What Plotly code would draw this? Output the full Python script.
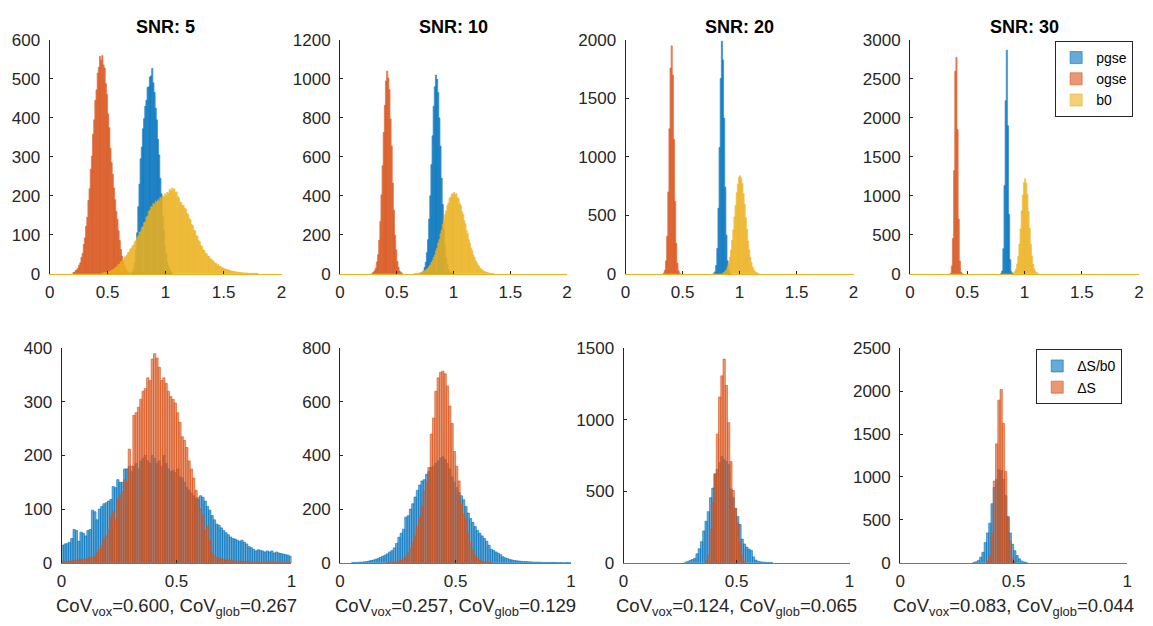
import numpy as np
import plotly.graph_objects as go

BIN = 0.01  # histogram bin width (fixed edges)

# ---------------- data: top row (pgse / ogse / b0), start edge + bin counts ----------------
snr_labels = ["SNR: 5", "SNR: 10", "SNR: 20", "SNR: 30"]

pgse_5_start = 0.70
pgse_5 = [2, 5, 12, 28, 62, 105, 172, 230, 295, 325, 372, 398, 430, 445, 478, 480, 505, 508, 527, 490,
          465, 425, 395, 345, 305, 245, 205, 148, 112, 72, 52, 30, 19, 10, 5, 2]
ogse_5_start = 0.20
ogse_5 = [3, 4, 8, 10, 14, 22, 28, 42, 52, 75, 92, 122, 145, 188, 218, 268, 302, 358, 395, 445,
          472, 515, 530, 558, 548, 560, 536, 528, 488, 460, 410, 375, 322, 285, 255, 220, 190, 160, 140, 110,
          85, 62, 45, 30, 20, 12, 8, 5, 3]
b0_5_start = 0.45
b0_5 = [2, 2, 3, 3, 4, 5,
        6, 7, 9, 10, 12, 15, 17, 20, 24,
        25, 30, 33, 35, 41, 44, 47, 54, 56, 63,
        65, 71, 74, 82, 85, 93, 97, 106, 108, 118,
        121, 131, 133, 145, 148, 160, 163, 172, 172, 180,
        178, 186, 183, 190, 187, 196, 192, 200, 197, 205,
        200, 209, 206, 216, 212, 220, 215, 218, 208, 210,
        198, 195, 184, 183, 175, 176, 168, 166, 155, 152,
        141, 138, 126, 124, 112, 110, 98, 96, 85, 82,
        72, 70, 61, 60, 52, 51, 45, 45, 38, 38,
        33, 32, 27, 27, 23, 23, 19, 19, 15, 15,
        13, 12, 11, 10, 9, 8, 7, 6, 6, 5,
        5, 4, 4, 3, 3, 3, 2, 2, 2, 2,
        2, 1, 1, 1, 1, 1, 1, 1, 1, 1]

pgse_10_start = 0.71
pgse_10 = [3, 7, 14, 32, 58, 108, 175, 280, 400, 560, 708, 860, 960, 1020, 998, 930, 800, 655, 490, 355,
           230, 148, 83, 47, 22, 11, 5, 2]
ogse_10_start = 0.28
ogse_10 = [4, 8, 16, 29, 60, 98, 172, 268, 405, 555, 725, 865, 990, 1040, 1005, 945, 795, 655, 465, 325,
           198, 122, 63, 33, 14, 7, 3]
b0_10_start = 0.65
b0_10 = [1, 1, 2, 2, 3, 5, 6, 8, 11, 14,
         18, 24, 28, 38, 45, 57, 67, 84, 96, 118,
         132, 158, 175, 205, 224, 255, 274, 304, 322, 350,
         362, 387, 393, 410, 408, 418, 405, 412, 390, 385,
         360, 350, 318, 305, 272, 256, 222, 205, 175, 158,
         132, 117, 96, 84, 66, 57, 45, 38, 28, 24,
         18, 14, 11, 8, 6, 5, 3, 2, 2, 1, 1]

pgse_20_start = 0.77
pgse_20 = [3, 16, 70, 215, 560, 1080, 1670, 1990, 1830, 1330, 740, 330, 110, 30, 6]
ogse_20_start = 0.33
ogse_20 = [6, 30, 110, 320, 700, 1240, 1760, 1950, 1700, 1150, 620, 260, 90, 25, 6]
b0_20_start = 0.85
b0_20 = [6, 11, 21, 34, 60, 90, 142, 200, 288, 375, 486, 585, 692, 765, 826, 838, 818, 772, 684, 592,
         480, 380, 280, 206, 138, 93, 57, 36, 19, 11, 6, 3]

pgse_30_start = 0.79
pgse_30 = [5, 35, 320, 1130, 2220, 2870, 1900, 760, 180, 25, 3]
ogse_30_start = 0.35
ogse_30 = [8, 100, 452, 1324, 2597, 2776, 1850, 700, 162, 20, 3]
b0_30_start = 0.90
b0_30 = [11, 28, 60, 125, 225, 380, 575, 805, 1010, 1170, 1220, 1160, 1015, 798, 580, 375, 228, 120, 62, 27,
         11, 4]

# ---------------- data: bottom row (dS/b0 and dS) ----------------
dsb0_5_start = 0.00
dsb0_5 = [32, 35, 36, 38, 45, 62, 60, 40, 57, 55,
          50, 60, 62, 98, 95, 80, 100, 105, 110, 112,
          115, 118, 142, 140, 155, 150, 150, 175, 175, 180,
          170, 180, 185, 175, 190, 195, 200, 190, 185, 200,
          195, 185, 190, 180, 200, 185, 175, 170, 172, 168,
          175, 160, 158, 150, 140, 135, 130, 125, 120, 118,
          125, 122, 115, 105, 98, 88, 80, 72, 70, 65,
          60, 56, 52, 48, 45, 44, 42, 40, 42, 38,
          35, 30, 28, 25, 22, 24, 23, 22, 20, 22,
          20, 22, 18, 20, 18, 17, 16, 15, 14, 12]
ds_5_start = 0.00
ds_5 = [2, 2, 3, 3, 3, 4, 5, 5, 6, 6,
        7, 8, 9, 10, 12, 18, 25, 32, 45, 50,
        62, 85, 95, 80, 118, 125, 132, 155, 150, 212,
        180, 275, 280, 290, 305, 320, 325, 345, 340, 380,
        390, 382, 365, 340, 345, 335, 320, 310, 305, 298,
        280, 262, 235, 228, 215, 190, 175, 158, 135, 122,
        100, 88, 60, 68, 42, 18, 14, 10, 8, 7,
        6, 5, 5, 4, 4, 3, 3, 3, 2, 2,
        2, 2, 1, 1, 1, 1, 1, 1, 1, 1,
        1, 1, 1, 0, 1, 0, 1, 0, 0, 0]

dsb0_10_start = 0.05
dsb0_10 = [1, 1, 1, 2, 2,
           3, 4, 6, 8, 10, 13, 16, 20, 24, 28,
           33, 40, 45, 55, 72, 95, 110, 125, 170, 175,
           200, 220, 245, 270, 290, 305, 310, 330, 340, 355,
           360, 370, 380, 390, 395, 385, 370, 350, 320, 300,
           280, 262, 250, 235, 210, 185, 165, 150, 135, 120,
           110, 100, 90, 80, 65, 50, 45, 40, 35, 30,
           22, 18, 15, 12, 10, 8, 7, 6, 5, 4,
           4, 3, 3, 2, 2, 2, 2, 1, 1, 1,
           1, 1, 1, 1, 0, 1, 0, 0, 1, 0]
ds_10_start = 0.20
ds_10 = [0, 0, 1, 2, 3, 5, 8, 14, 22, 35,
         52, 75, 100, 135, 170, 210, 268, 300, 355, 480,
         540, 640, 690, 710, 715, 705, 660, 585, 520, 415,
         360, 305, 220, 180, 160, 110, 75, 50, 27, 18,
         8, 5, 3, 2, 1, 1]

dsb0_20_start = 0.27
dsb0_20 = [4, 9, 16, 22, 30, 62, 97, 147, 222, 290, 357, 455, 522, 622, 652, 700, 742, 720, 708, 685,
           516, 455, 380, 324, 267, 165, 131, 109, 95, 86, 41, 18, 10, 6, 4, 3, 2, 2, 1]
ds_20_start = 0.36
ds_20 = [10, 52, 233, 420, 618, 900, 1160, 1308, 1425, 1240, 980, 708, 505, 380, 278, 143, 52, 12]

dsb0_30_start = 0.32
dsb0_30 = [4, 10, 26, 64, 121, 234, 347, 461, 687, 876, 971, 1084, 1073, 971, 782, 536, 347, 215, 140, 83,
           45, 19, 8, 4]
ds_30_start = 0.38
ds_30 = [20, 83, 347, 952, 1386, 1896, 2020, 1624, 1065, 536, 253, 45, 8]

cov_vox = ["0.600", "0.257", "0.124", "0.083"]
cov_glob = ["0.267", "0.129", "0.065", "0.044"]

top_ymax = [600, 1200, 2000, 3000]
top_dtick = [100, 200, 500, 500]
bot_ymax = [400, 800, 1500, 2500]
bot_dtick = [100, 200, 500, 500]

top_names = ["pgse", "ogse", "b0"]
bot_names = ["ΔS/b0", "ΔS"]

# ---------------- styling / layout ----------------
W, H = 1153, 626
FONT = "Liberation Sans, Arial, Helvetica, sans-serif"
AX = "#262626"
BLUE = (0, 114, 189)
ORANGE = (217, 83, 25)
YELLOW = (237, 177, 32)

top_x_px = [(45, 279), (338, 567), (626, 856), (913, 1144)]
bot_x_px = [(57, 289), (338, 571), (624, 852), (903, 1132)]
top_y_px = (32, 273)
bot_y_px = (350, 571)


def xdom(a, b):
    return [a / W, b / W]


def ydom(top, bottom):
    return [1 - bottom / H, 1 - top / H]


fig = go.Figure()


def add_hist(n, start, counts, rgb, name, legend, showlegend):
    centers = start + BIN * (np.arange(len(counts)) + 0.5)
    r, g, b = rgb
    fig.add_trace(go.Bar(
        x=centers, y=counts, width=BIN, name=name,
        marker=dict(color=f"rgba({r},{g},{b},0.6)", line=dict(color=f"rgb({r},{g},{b})", width=0.6)),
        xaxis="x" if n == 1 else f"x{n}", yaxis="y" if n == 1 else f"y{n}",
        showlegend=showlegend, legend=legend, hoverinfo="skip"))


top_data = [
    ((pgse_5_start, pgse_5), (ogse_5_start, ogse_5), (b0_5_start, b0_5)),
    ((pgse_10_start, pgse_10), (ogse_10_start, ogse_10), (b0_10_start, b0_10)),
    ((pgse_20_start, pgse_20), (ogse_20_start, ogse_20), (b0_20_start, b0_20)),
    ((pgse_30_start, pgse_30), (ogse_30_start, ogse_30), (b0_30_start, b0_30)),
]
bot_data = [
    ((dsb0_5_start, dsb0_5), (ds_5_start, ds_5)),
    ((dsb0_10_start, dsb0_10), (ds_10_start, ds_10)),
    ((dsb0_20_start, dsb0_20), (ds_20_start, ds_20)),
    ((dsb0_30_start, dsb0_30), (ds_30_start, ds_30)),
]

for i in range(4):
    n = i + 1
    for (st, cnt), col, nm in zip(top_data[i], (BLUE, ORANGE, YELLOW), top_names):
        add_hist(n, st, cnt, col, nm, "legend", i == 3)
    n = i + 5
    for (st, cnt), col, nm in zip(bot_data[i], (BLUE, ORANGE), bot_names):
        add_hist(n, st, cnt, col, nm, "legend2", i == 3)

layout = dict(
    width=W, height=H, autosize=False,
    margin=dict(l=0, r=0, t=0, b=0),
    paper_bgcolor="white", plot_bgcolor="white",
    barmode="overlay",
    font=dict(family=FONT, size=17, color=AX),
    legend=dict(x=1138 / W, xanchor="right", y=1 - 33 / H, yanchor="top",
                bordercolor=AX, borderwidth=1, bgcolor="white",
                font=dict(size=14, color="black"), itemwidth=30, tracegroupgap=0),
    legend2=dict(x=1127 / W, xanchor="right", y=1 - 351 / H, yanchor="top",
                 bordercolor=AX, borderwidth=1, bgcolor="white",
                 font=dict(size=14, color="black"), itemwidth=30, tracegroupgap=0),
)

annotations = []
for i in range(4):
    for row in ("top", "bot"):
        n = i + 1 if row == "top" else i + 5
        xs = top_x_px[i] if row == "top" else bot_x_px[i]
        ys = top_y_px if row == "top" else bot_y_px
        xmax = 2 if row == "top" else 1
        ymax = top_ymax[i] if row == "top" else bot_ymax[i]
        dt = top_dtick[i] if row == "top" else bot_dtick[i]
        basecol = "rgb(237,177,32)" if row == "top" else "rgb(217,83,25)"
        xk = "xaxis" if n == 1 else f"xaxis{n}"
        yk = "yaxis" if n == 1 else f"yaxis{n}"
        layout[xk] = dict(domain=xdom(*xs), range=[0, xmax], tick0=0, dtick=0.5,
                          ticks="inside", ticklen=3, tickcolor=AX, tickwidth=1,
                          showline=True, linecolor=basecol, linewidth=1,
                          showgrid=False, zeroline=False, fixedrange=True,
                          anchor="y" if n == 1 else f"y{n}",
                          tickfont=dict(size=17, color=AX), ticklabelstandoff=3)
        layout[yk] = dict(domain=ydom(*ys), range=[0, ymax], tick0=0, dtick=dt,
                          ticks="inside", ticklen=3, tickcolor=AX, tickwidth=1,
                          showline=True, linecolor=AX, linewidth=1,
                          showgrid=False, zeroline=False, fixedrange=True,
                          anchor="x" if n == 1 else f"x{n}",
                          tickfont=dict(size=17, color=AX), ticklabelstandoff=5)
    # titles
    cx = (top_x_px[i][0] + top_x_px[i][1]) / 2 / W
    annotations.append(dict(text=f"<b>{snr_labels[i]}</b>", x=cx, y=1 - 19 / H, xref="paper", yref="paper",
                            xanchor="center", yanchor="middle", showarrow=False,
                            font=dict(size=18, color="black", family=FONT)))
    cxb = (bot_x_px[i][0] + bot_x_px[i][1]) / 2 / W
    txt = (f"CoV<sub>vox</sub>=" + cov_vox[i] + ", CoV<sub>glob</sub>=" + cov_glob[i])
    annotations.append(dict(text=txt, x=cxb, y=1 - 602 / H, xref="paper", yref="paper",
                            xanchor="center", yanchor="top", showarrow=False,
                            font=dict(size=18.5, color=AX, family=FONT)))

layout["annotations"] = annotations
fig.update_layout(**layout)
fig.write_html("out.html")
